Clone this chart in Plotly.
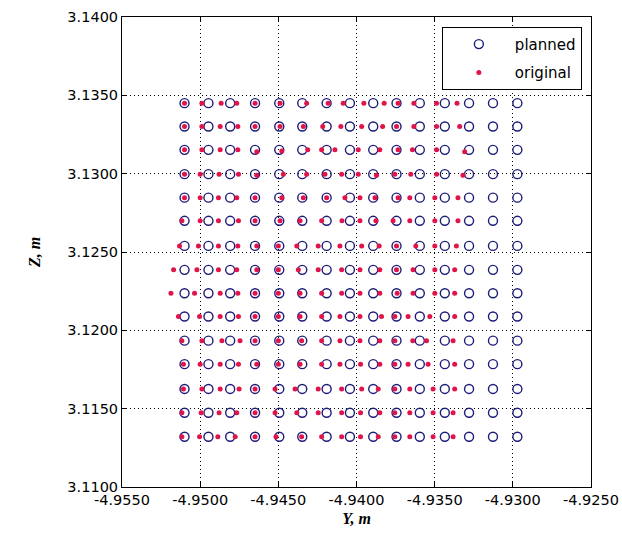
import plotly.graph_objects as go

# Planned grid (Y columns, Z rows)
planned_y = [-4.95100, -4.94947, -4.94808, -4.94649, -4.94494, -4.94347, -4.94191, -4.94042,
             -4.93893, -4.93744, -4.93595, -4.93435, -4.93280, -4.93127, -4.92971]
planned_z = [3.13450, 3.13301, 3.13152, 3.12997, 3.12847, 3.12699, 3.12539, 3.12386,
             3.12237, 3.12088, 3.11934, 3.11784, 3.11626, 3.11474, 3.11321]

# Original points, one list per row (top row first)
orig_y_rows = [
    [-4.95100, -4.94989, -4.94866, -4.94766, -4.94649, -4.94489, -4.94319, -4.94181, -4.94085, -4.93953, -4.93823, -4.93734, -4.93633, -4.93488, -4.93357],
    [-4.95100, -4.94989, -4.94872, -4.94759, -4.94649, -4.94489, -4.94340, -4.94216, -4.94100, -4.93967, -4.93833, -4.93744, -4.93633, -4.93488, -4.93340],
    [-4.95100, -4.94989, -4.94872, -4.94759, -4.94638, -4.94478, -4.94312, -4.94223, -4.94138, -4.93989, -4.93851, -4.93734, -4.93642, -4.93488, -4.93308],
    [-4.95100, -4.95000, -4.94879, -4.94755, -4.94638, -4.94468, -4.94319, -4.94202, -4.94095, -4.93989, -4.93872, -4.93755, -4.93653, -4.93488, -4.93319],
    [-4.95100, -4.95000, -4.94883, -4.94766, -4.94649, -4.94478, -4.94340, -4.94191, -4.94074, -4.93978, -4.93882, -4.93734, -4.93659, -4.93499, -4.93351],
    [-4.95117, -4.95000, -4.94883, -4.94755, -4.94649, -4.94489, -4.94361, -4.94223, -4.94093, -4.93978, -4.93876, -4.93766, -4.93659, -4.93499, -4.93351],
    [-4.95132, -4.95011, -4.94883, -4.94759, -4.94638, -4.94500, -4.94382, -4.94245, -4.94106, -4.93967, -4.93855, -4.93744, -4.93621, -4.93499, -4.93361],
    [-4.95170, -4.95021, -4.94883, -4.94766, -4.94638, -4.94500, -4.94372, -4.94245, -4.94095, -4.93978, -4.93851, -4.93744, -4.93638, -4.93499, -4.93372],
    [-4.95187, -4.95036, -4.94872, -4.94759, -4.94649, -4.94500, -4.94361, -4.94223, -4.94095, -4.93978, -4.93851, -4.93740, -4.93638, -4.93499, -4.93372],
    [-4.95139, -4.95004, -4.94872, -4.94755, -4.94649, -4.94500, -4.94361, -4.94223, -4.94106, -4.93978, -4.93840, -4.93755, -4.93670, -4.93531, -4.93372],
    [-4.95117, -4.94989, -4.94861, -4.94745, -4.94649, -4.94500, -4.94351, -4.94223, -4.94106, -4.93978, -4.93851, -4.93755, -4.93640, -4.93552, -4.93382],
    [-4.95107, -4.95000, -4.94872, -4.94755, -4.94638, -4.94500, -4.94361, -4.94223, -4.94106, -4.93974, -4.93851, -4.93755, -4.93670, -4.93542, -4.93372],
    [-4.95107, -4.94989, -4.94872, -4.94751, -4.94649, -4.94521, -4.94393, -4.94245, -4.94095, -4.93967, -4.93861, -4.93755, -4.93659, -4.93510, -4.93372],
    [-4.95117, -4.94994, -4.94879, -4.94766, -4.94649, -4.94521, -4.94382, -4.94245, -4.94095, -4.93974, -4.93851, -4.93755, -4.93659, -4.93510, -4.93382],
    [-4.95117, -4.95004, -4.94887, -4.94776, -4.94649, -4.94515, -4.94351, -4.94223, -4.94095, -4.93974, -4.93861, -4.93755, -4.93659, -4.93510, -4.93382],
]
orig_z_rows = [
    [3.13450, 3.13450, 3.13450, 3.13450, 3.13450, 3.13450, 3.13450, 3.13450, 3.13450, 3.13450, 3.13450, 3.13450, 3.13450, 3.13450, 3.13450],
    [3.13301, 3.13301, 3.13301, 3.13301, 3.13301, 3.13301, 3.13301, 3.13301, 3.13301, 3.13301, 3.13301, 3.13301, 3.13301, 3.13301, 3.13301],
    [3.13152, 3.13152, 3.13152, 3.13152, 3.13140, 3.13145, 3.13152, 3.13152, 3.13152, 3.13152, 3.13152, 3.13152, 3.13152, 3.13152, 3.13140],
    [3.12997, 3.12997, 3.12997, 3.12997, 3.12990, 3.12997, 3.12997, 3.12997, 3.12997, 3.12997, 3.12990, 3.12997, 3.12997, 3.12997, 3.12990],
    [3.12847, 3.12847, 3.12847, 3.12847, 3.12847, 3.12847, 3.12847, 3.12847, 3.12847, 3.12847, 3.12847, 3.12847, 3.12847, 3.12847, 3.12847],
    [3.12699, 3.12699, 3.12699, 3.12699, 3.12699, 3.12699, 3.12699, 3.12699, 3.12699, 3.12699, 3.12699, 3.12699, 3.12699, 3.12699, 3.12699],
    [3.12539, 3.12539, 3.12539, 3.12539, 3.12539, 3.12539, 3.12539, 3.12539, 3.12539, 3.12539, 3.12539, 3.12539, 3.12539, 3.12539, 3.12539],
    [3.12386, 3.12386, 3.12386, 3.12386, 3.12386, 3.12386, 3.12386, 3.12386, 3.12386, 3.12386, 3.12386, 3.12386, 3.12386, 3.12386, 3.12386],
    [3.12237, 3.12237, 3.12237, 3.12237, 3.12237, 3.12237, 3.12237, 3.12237, 3.12237, 3.12237, 3.12237, 3.12237, 3.12237, 3.12237, 3.12237],
    [3.12088, 3.12088, 3.12088, 3.12088, 3.12088, 3.12088, 3.12088, 3.12088, 3.12088, 3.12088, 3.12088, 3.12088, 3.12088, 3.12088, 3.12088],
    [3.11934, 3.11934, 3.11934, 3.11934, 3.11934, 3.11934, 3.11934, 3.11934, 3.11934, 3.11934, 3.11934, 3.11934, 3.11934, 3.11934, 3.11934],
    [3.11784, 3.11784, 3.11784, 3.11784, 3.11784, 3.11784, 3.11784, 3.11784, 3.11784, 3.11784, 3.11784, 3.11784, 3.11784, 3.11784, 3.11784],
    [3.11626, 3.11626, 3.11626, 3.11626, 3.11626, 3.11626, 3.11626, 3.11626, 3.11626, 3.11626, 3.11626, 3.11626, 3.11626, 3.11626, 3.11626],
    [3.11474, 3.11474, 3.11474, 3.11474, 3.11474, 3.11474, 3.11474, 3.11474, 3.11474, 3.11474, 3.11474, 3.11474, 3.11474, 3.11474, 3.11474],
    [3.11321, 3.11321, 3.11321, 3.11321, 3.11321, 3.11321, 3.11321, 3.11321, 3.11321, 3.11321, 3.11321, 3.11321, 3.11321, 3.11321, 3.11321],
]

x_ticks = [-4.955, -4.950, -4.945, -4.940, -4.935, -4.930, -4.925]
x_labels = ["-4.9550", "-4.9500", "-4.9450", "-4.9400", "-4.9350", "-4.9300", "-4.9250"]
y_ticks = [3.110, 3.115, 3.120, 3.125, 3.130, 3.135, 3.140]
y_labels = ["3.1100", "3.1150", "3.1200", "3.1250", "3.1300", "3.1350", "3.1400"]

px = [y for z in planned_z for y in planned_y]
pz = [z for z in planned_z for y in planned_y]
ox = [v for row in orig_y_rows for v in row]
oz = [v for row in orig_z_rows for v in row]

fig = go.Figure()
fig.add_trace(go.Scatter(
    x=px, y=pz, mode="markers", name="planned", legendgroup="a",
    marker=dict(symbol="circle-open", size=9, color="#1c1c7a", line=dict(width=1.4)),
))
fig.add_trace(go.Scatter(
    x=ox, y=oz, mode="markers", name="original", legendgroup="b",
    marker=dict(symbol="circle", size=5, color="#e0144a"),
))

font = "DejaVu Sans, sans-serif"
axis_common = dict(
    showline=True, linecolor="black", linewidth=1, mirror="allticks",
    ticks="inside", ticklen=5, tickcolor="black",
    showgrid=True, gridcolor="black", griddash="1px,3px", gridwidth=1,
    zeroline=False, automargin=False, ticklabeloverflow="allow",
    tickfont=dict(family=font, size=14.5, color="black"),
)
title_font = dict(family="Liberation Serif, serif", size=16, color="black")
fig.update_xaxes(range=[-4.9550001, -4.9249999], tickvals=x_ticks, ticktext=x_labels,
                 title=dict(text="<b><i>Y, m</i></b>", font=title_font, standoff=5),
                 **axis_common)
fig.update_yaxes(range=[3.1099999, 3.1400001], tickvals=y_ticks, ticktext=y_labels,
                 title=dict(text="<b><i>Z, m</i></b>", font=title_font, standoff=22),
                 **axis_common)

fig.update_layout(
    template="none",
    width=622, height=535,
    margin=dict(l=122, r=31, t=17, b=48),
    plot_bgcolor="white", paper_bgcolor="white",
    showlegend=True,
    legend=dict(x=0.682, y=0.979, xanchor="left", yanchor="top",
                bgcolor="white", bordercolor="black", borderwidth=1,
                font=dict(family=font, size=15, color="black"),
                itemwidth=62, traceorder="grouped", tracegroupgap=6),
)

fig.write_html("out.html", config={"displayModeBar": False},
               post_script="document.body.style.margin='0';document.body.style.overflow='hidden';")
